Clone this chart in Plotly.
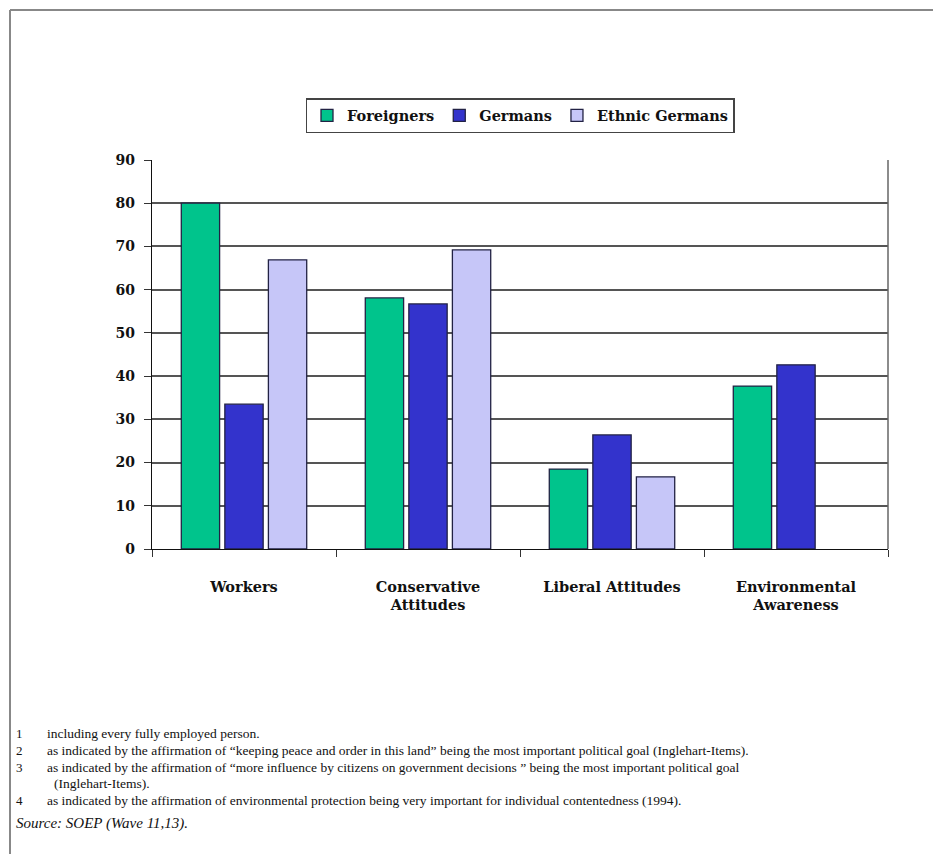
import plotly.graph_objects as go

categories = ["Workers", "Conservative<br>Attitudes", "Liberal Attitudes", "Environmental<br>Awareness"]
foreigners = [80.0, 58.1, 18.5, 37.7]
germans = [33.5, 56.7, 26.4, 42.6]
ethnic_germans = [66.9, 69.2, 16.7, None]
y_ticks = [0, 10, 20, 30, 40, 50, 60, 70, 80, 90]

footnote_nums = ["1", "2", "3", "", "4"]
footnote_texts = [
    "including every fully employed person.",
    "as indicated by the affirmation of \u201ckeeping peace and order in this land\u201d being the most important political goal (Inglehart-Items).",
    "as indicated by the affirmation of \u201cmore influence by citizens on government decisions \u201d being the most important political goal",
    "(Inglehart-Items).",
    "as indicated by the affirmation of environmental protection being very important for individual contentedness (1994).",
]
source_text = "Source: SOEP (Wave 11,13)."

W, H = 933, 854
L, R, T, B = 152, 888, 160, 549


def px(x):
    return (x - L) / (R - L)


def py(y):
    return (B - y) / (B - T)


SERIF = "DejaVu Serif"
colors = ["#00C48C", "#3333CC", "#C6C6F8"]
names = ["Foreigners", "Germans", "Ethnic Germans"]
series = [foreigners, germans, ethnic_germans]

fig = go.Figure()
for n, s, c in zip(names, series, colors):
    fig.add_trace(go.Bar(
        x=categories, y=s, name=n,
        marker=dict(color=c, line=dict(color="#222244", width=1.3)),
    ))

fig.update_layout(
    width=W, height=H,
    margin=dict(l=L, r=W - R, t=T, b=H - B),
    paper_bgcolor="white", plot_bgcolor="white",
    barmode="group", bargap=0.29, bargroupgap=0.12,
    font=dict(family=SERIF, color="#111111"),
    showlegend=True,
    legend=dict(
        orientation="h", x=0.5, xanchor="center", y=py(98), yanchor="top",
        bordercolor="#444444", borderwidth=1.5, bgcolor="white",
        font=dict(family=SERIF, size=14.5, weight="bold", color="#111111"),
        itemwidth=30, tracegroupgap=0,
    ),
    xaxis=dict(
        type="category", showline=True, linecolor="#111111", linewidth=1.3,
        ticks="outside", tickson="boundaries", ticklen=7, tickcolor="#333333",
        tickfont=dict(family=SERIF, size=14.5, weight="bold", color="#111111"),
        showgrid=False, ticklabelstandoff=24,
    ),
    yaxis=dict(
        range=[0, 90], tickvals=y_ticks, showline=True, linecolor="#111111", linewidth=1.3,
        ticks="outside", ticklen=7, tickcolor="#333333",
        tickfont=dict(family=SERIF, size=14, weight="bold", color="#111111"),
        showgrid=True, gridcolor="#555555", gridwidth=1.5,
        ticklabelstandoff=6, zeroline=False,
    ),
)

# right plot border
fig.add_shape(type="line", xref="paper", yref="paper", x0=1, x1=1, y0=0, y1=1,
              line=dict(color="#666666", width=1.5))
# outer frame (top and left edges)
fig.add_shape(type="line", xref="paper", yref="paper", x0=px(10), x1=px(W), y0=py(10), y1=py(10),
              line=dict(color="#888888", width=2))
fig.add_shape(type="line", xref="paper", yref="paper", x0=px(10), x1=px(10), y0=py(10), y1=py(H),
              line=dict(color="#888888", width=2))

ys = [733, 750, 767, 783, 800]
for num, txt, yy in zip(footnote_nums, footnote_texts, ys):
    if num:
        fig.add_annotation(text=num, xref="paper", yref="paper", x=px(14), y=py(yy),
                           xanchor="left", yanchor="middle", showarrow=False,
                           font=dict(family="Liberation Serif", size=13, color="#111111"))
    fig.add_annotation(text=txt, xref="paper", yref="paper", x=px(45 if num else 52), y=py(yy),
                       xanchor="left", yanchor="middle", showarrow=False,
                       font=dict(family="Liberation Serif", size=13.5, color="#111111"))
fig.add_annotation(text="<i>" + source_text + "</i>", xref="paper", yref="paper", x=px(14), y=py(823),
                   xanchor="left", yanchor="middle", showarrow=False,
                   font=dict(family="Liberation Serif", size=15, color="#111111"))

fig.write_html("out.html")
